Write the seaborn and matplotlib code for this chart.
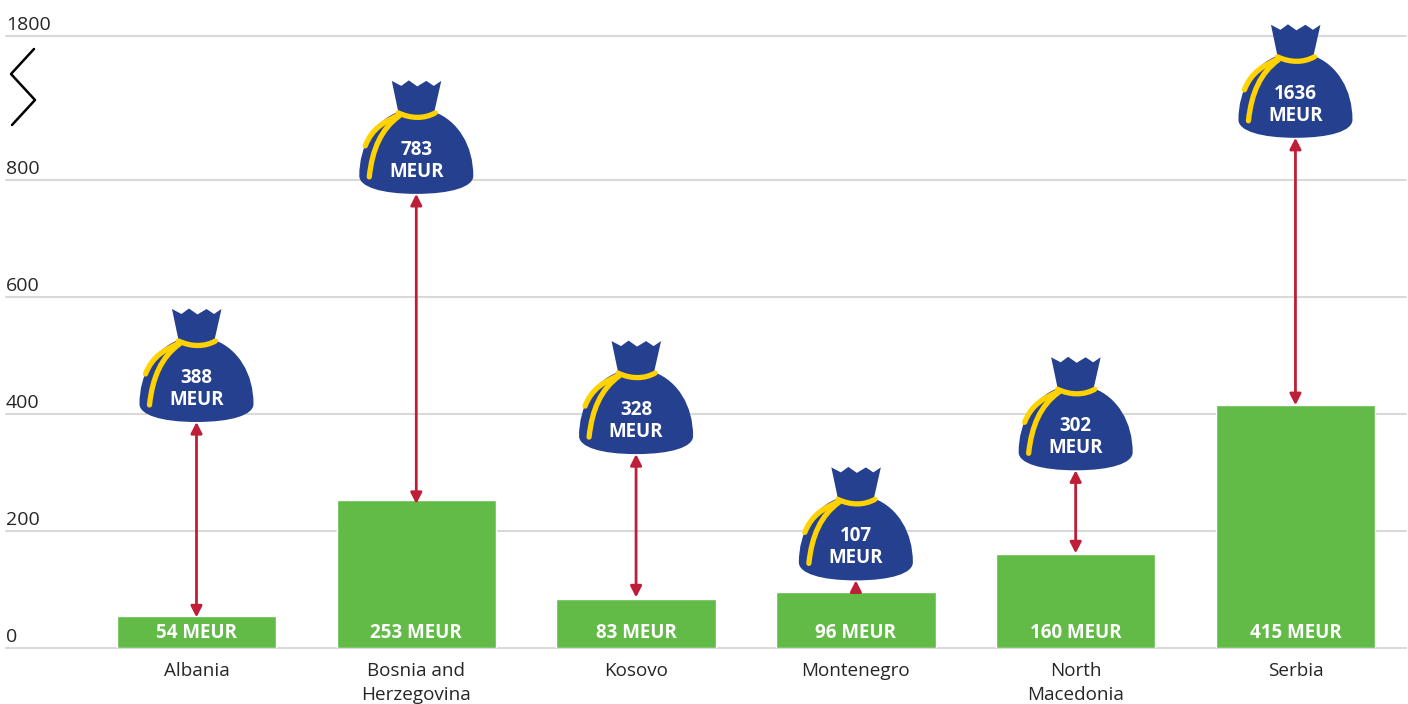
import numpy as np
import pandas as pd
import seaborn as sns
import matplotlib.pyplot as plt
from matplotlib.lines import Line2D
from matplotlib.patches import PathPatch
from matplotlib.path import Path
from matplotlib.transforms import Affine2D, ScaledTranslation

countries = ['Albania', 'Bosnia and\nHerzegovina', 'Kosovo', 'Montenegro', 'North\nMacedonia', 'Serbia']
bar_values = [54, 253, 83, 96, 160, 415]
bag_values = [388, 783, 328, 107, 302, 1636]
y_ticks = [0, 200, 400, 600, 800, 1800]

# the axis is broken above 800, so it is only linear up to there
scale_real = [0, 800, 1636, 1800]
scale_shown = [0, 800, 872, 1046]

# the bags don't sit exactly on their values in the original, pixels up
bag_nudge = [-1, -4, 2, 5, 1, 0]

GREEN = '#62BB46'
BLUE = '#25408F'
YELLOW = '#FFD200'
RED = '#BE1E37'
GRID = '#D9D9D9'
TEXT = '#262626'

sns.set_theme(style='whitegrid')
plt.rcParams['font.family'] = ['Open Sans', 'DejaVu Sans']

fig = plt.figure(figsize=(14.08, 7.04), dpi=100)
ax = fig.add_axes([6 / 1408, 1 - 648 / 704, 1400 / 1408, 612 / 704])

df = pd.DataFrame({'country': countries, 'value': bar_values})
sns.barplot(data=df, x='country', y='value', color=GREEN, saturation=1, width=0.725, ax=ax)

ax.set_yscale('function', functions=(lambda v: np.interp(v, scale_real, scale_shown),
                                     lambda v: np.interp(v, scale_shown, scale_real)))
ax.set_ylim(0, 1800)
ax.set_xlim(-0.8667, 5.503)
ax.set_xlabel('')
ax.set_ylabel('')
ax.set_axisbelow(True)
sns.despine(ax=ax, left=True, bottom=True, top=True, right=True)
ax.grid(False, axis='x')
ax.grid(True, axis='y', color=GRID, lw=1.5, clip_on=False)

ax.set_yticks(y_ticks, [str(t) for t in y_ticks], ha='left', va='bottom')
ax.tick_params(axis='y', length=0, pad=0, labelsize=14, labelcolor=TEXT)
ax.tick_params(axis='x', length=0, pad=10, labelsize=13.6, labelcolor=TEXT)
ax.minorticks_off()
for lab in ax.get_yticklabels():
    lab.set_transform(lab.get_transform() + ScaledTranslation(0, 1.5 / 72, fig.dpi_scale_trans))
for lab in ax.get_xticklabels():
    lab.set_linespacing(1.42)

# bag outline, pixels around the bottom centre of the bag
bag_verts = [(-24.5, 113), (-15, 108), (-7.5, 113.5), (1, 107.5), (10, 113), (17.5, 108), (25, 113),
             (18, 82),
             (42, 73), (57, 48), (57, 18),
             (57, 7), (35, 0), (0, 0),
             (-35, 0), (-57, 7), (-57, 18),
             (-57, 48), (-42, 73), (-18, 82),
             (-24.5, 113)]
bag_codes = [Path.MOVETO] + [Path.LINETO] * 7 + [Path.CURVE4] * 12 + [Path.CLOSEPOLY]
bag_path = Path(bag_verts, bag_codes)

curve = [Path.MOVETO, Path.CURVE4, Path.CURVE4, Path.CURVE4]
cord_paths = [
    Path([(-18, 81), (-5, 75), (8, 75), (19, 81)], curve),
    Path([(-17, 79), (-32, 72), (-44, 66), (-51, 48)], curve),
    Path([(-17, 78), (-35, 65), (-44, 45), (-47, 17)], curve),
]

fig.canvas.draw()
for i, (bar, bag, nudge) in enumerate(zip(bar_values, bag_values, bag_nudge)):
    # Montenegro's gap is too small for two arrow heads
    style = '<|-|>' if bag - bar > 40 else '-|>'
    ax.annotate('', xy=(i, bag), xytext=(i, bar),
                xycoords=ax.transData + Affine2D().translate(0, nudge),
                arrowprops=dict(arrowstyle=style + ',head_length=0.55,head_width=0.28', color=RED, lw=2,
                                shrinkA=0, shrinkB=0), zorder=3)

    x0, y0 = ax.transData.transform((i, bag))
    place = Affine2D().translate(x0, y0 + nudge)
    ax.add_patch(PathPatch(bag_path, fc=BLUE, ec='none', transform=place, zorder=4, clip_on=False))
    for p in cord_paths:
        ax.add_patch(PathPatch(p, fc='none', ec=YELLOW, lw=3.8, capstyle='round', transform=place,
                               zorder=5, clip_on=False))
    ax.annotate(f'{bag}\nMEUR', xy=(i, bag), xytext=(0, (nudge + 33) * 0.72), textcoords='offset points',
                ha='center', va='center', color='white', fontsize=13.5, fontweight='bold',
                linespacing=1.12, zorder=6, annotation_clip=False)
    ax.annotate(f'{bar} MEUR', xy=(i, 0), xytext=(0, 14.5 * 0.72), textcoords='offset points',
                ha='center', va='center', color='white', fontsize=13.5, fontweight='bold', zorder=6)

# axis break mark
zig_x = np.array([34, 11, 35, 12]) / 1408
zig_y = 1 - np.array([49, 74, 100, 125]) / 704
fig.add_artist(Line2D(zig_x, zig_y, color='black', lw=1.8, transform=fig.transFigure))

fig.savefig('out.png', dpi=100)
